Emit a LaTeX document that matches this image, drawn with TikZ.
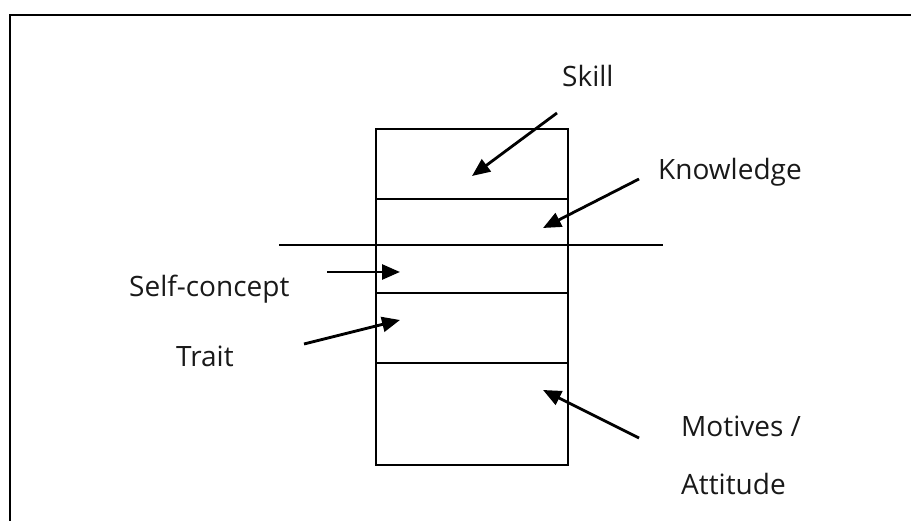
\documentclass[tikz,border=0pt]{standalone}
\usepackage{fontspec}
\setmainfont{Open Sans}
\usetikzlibrary{arrows.meta}
\tikzset{
  frameline/.style={line width=2.4pt, black},
  boxline/.style={line width=1.6pt, black},
  cell/.style={draw, line width=1.6pt, black, anchor=north west, inner sep=0pt, minimum width=192pt},
  pointer/.style={line width=2.8pt, black, -{Triangle[length=18pt,width=15pt]}},
  lbl/.style={anchor=base west, inner sep=0pt, font=\fontsize{28}{32}\selectfont, text=black!90}
}
\begin{document}
\begin{tikzpicture}[x=1pt,y=-1pt]
\useasboundingbox (0,0) rectangle (911,521);
% outer frame (only top and left visible)
\coordinate (fB) at (10,523); \coordinate (fC) at (10,15); \coordinate (fR) at (913,15);
\draw[frameline] (fB) -- (fC) -- (fR);
% stacked box
\node[cell, minimum height=70pt] (c1) at (375,128) {};
\node[cell, minimum height=94pt] (c2) at (375,198) {};
\node[cell, minimum height=70pt] (c3) at (375,292) {};
\node[cell, minimum height=102pt] (c4) at (375,362) {};
% long waterline
\coordinate (wL) at (279,245); \coordinate (wR) at (663,245);
\draw[boxline] (wL) -- (wR);
% labels
\node[lbl] (skill) at (562,87) {Skill};
\node[lbl] (know) at (658,180) {Knowledge};
\node[lbl] (self) at (129,297) {Self-concept};
\node[lbl] (trait) at (176,367) {Trait};
\node[lbl] (mot) at (681,437) {Motives /};
\node[lbl] (att) at (681,494) {Attitude};
% arrow coordinates
\coordinate (sS) at (557,113); \coordinate (sE) at (472,176);
\coordinate (kS) at (639,179); \coordinate (kE) at (543,228);
\coordinate (cS) at (327,272); \coordinate (cE) at (400,272);
\coordinate (tS) at (304,344); \coordinate (tE) at (400,320);
\coordinate (mS) at (639,438); \coordinate (mE) at (543,390);
\draw[pointer] (sS) -- (sE);
\draw[pointer] (kS) -- (kE);
\draw[pointer] (cS) -- (cE);
\draw[pointer] (tS) -- (tE);
\draw[pointer] (mS) -- (mE);
\end{tikzpicture}
\end{document}
